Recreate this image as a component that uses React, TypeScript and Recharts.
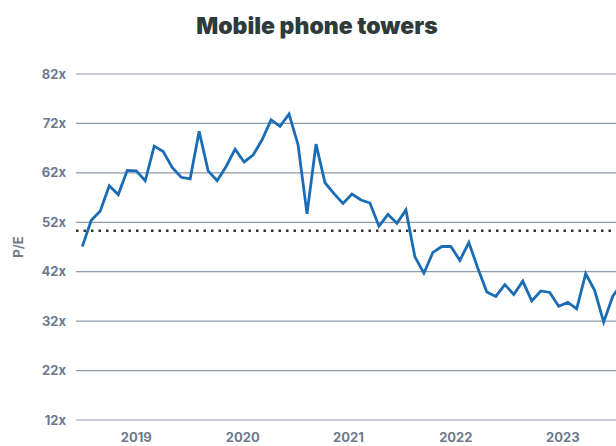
import { LineChart, Line, XAxis, YAxis, CartesianGrid, ReferenceLine } from "recharts";

// monthly P/E readings
const PE_VALUES = [
  47.1, 52.4, 54.3, 59.4, 57.6, 62.5, 62.4, 60.4, 67.4, 66.3, 63.1, 61.1,
  60.8, 70.4, 62.4, 60.4, 63.3, 66.8, 64.2, 65.6, 68.7, 72.7, 71.4, 73.9,
  67.7, 53.7, 67.8, 60.0, 57.8, 55.8, 57.7, 56.5, 55.9, 51.2, 53.6, 51.8,
  54.5, 45.0, 41.7, 45.9, 47.1, 47.1, 44.3, 47.9, 42.7, 37.9, 37.0, 39.4,
  37.4, 40.1, 36.1, 38.1, 37.8, 35.0, 35.8, 34.5, 41.6, 38.2, 31.8, 37.0,
  39.6,
];

// year labels and where they sit along the month index
const YEAR_LABELS = ["2019", "2020", "2021", "2022", "2023"];
const YEAR_TICKS = [6, 17.85, 29.6, 41.55, 53.45];

const Y_TICKS = [12, 22, 32, 42, 52, 62, 72, 82];
const AVG_PE = 50.3;

const TICK_STYLE = {
  fontFamily: "Inter",
  fontSize: 13,
  fontWeight: 700,
  fill: "#6e7a8c",
};

export default function App() {
  const data = PE_VALUES.map((pe, i) => ({ i, pe }));

  return (
    <div
      style={{
        position: "absolute",
        left: 0,
        top: 0,
        width: 616,
        height: 446,
        overflow: "hidden",
        background: "#fff",
      }}
    >
      <div
        style={{
          position: "absolute",
          left: 0,
          top: 12,
          width: 634,
          textAlign: "center",
          fontFamily: "Inter",
          fontWeight: 900,
          fontSize: 23,
          lineHeight: "28px",
          color: "#2f3b3b",
        }}
      >
        Mobile phone towers
      </div>
      <LineChart
        width={640}
        height={446}
        data={data}
        margin={{ top: 74, right: 0, bottom: 0, left: 0 }}
      >
        <CartesianGrid vertical={false} stroke="#8f9aa9" strokeWidth={1.2} />
        <XAxis
          dataKey="i"
          type="number"
          domain={[-0.7, 62.04]}
          ticks={YEAR_TICKS}
          tickFormatter={(v) => YEAR_LABELS[YEAR_TICKS.indexOf(v)] ?? ""}
          allowDataOverflow
          axisLine={false}
          tickLine={false}
          tick={TICK_STYLE}
          tickMargin={7}
          height={26}
          interval={0}
        />
        <YAxis
          domain={[12, 82]}
          ticks={Y_TICKS}
          tickFormatter={(v) => `${v}x`}
          axisLine={false}
          tickLine={false}
          tick={TICK_STYLE}
          tickMargin={4}
          width={76}
          interval={0}
          label={{
            value: "P/E",
            angle: -90,
            position: "insideLeft",
            offset: 18,
            style: { ...TICK_STYLE, textAnchor: "middle" },
          }}
        />
        <ReferenceLine
          y={AVG_PE}
          stroke="#333"
          strokeWidth={2.5}
          strokeDasharray="2.5 5"
        />
        <Line
          type="linear"
          dataKey="pe"
          stroke="#1a6db5"
          strokeWidth={2.8}
          dot={false}
          isAnimationActive={false}
        />
      </LineChart>
    </div>
  );
}
